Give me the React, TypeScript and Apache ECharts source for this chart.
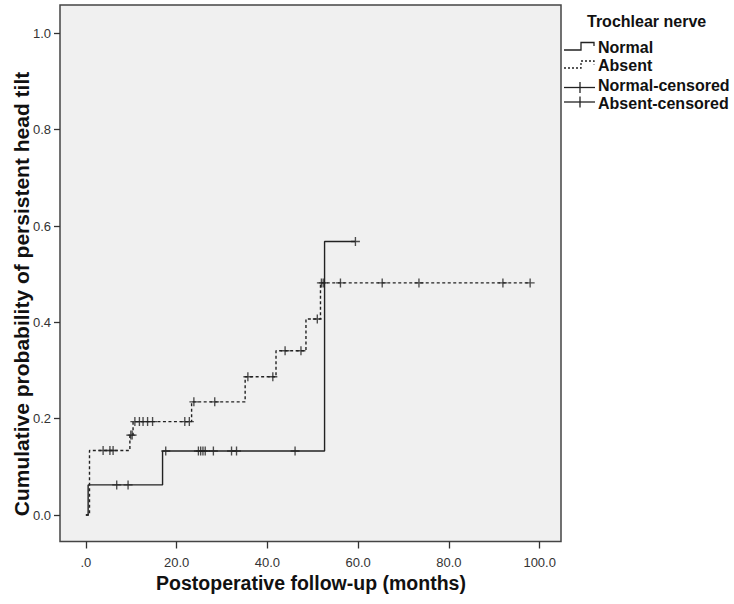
import React, { useEffect, useRef } from "react";
import * as echarts from "echarts";

// Kaplan-Meier step points [months, cumulative probability]
const normalCurve: [number, number][] = [
  [0, 0], [0.5, 0.0625], [16.9, 0.133], [52.6, 0.568], [59.4, 0.568],
];
const absentCurve: [number, number][] = [
  [0, 0], [0.8, 0.134], [9.7, 0.166], [10.4, 0.194], [23.3, 0.235], [35.1, 0.287],
  [41.9, 0.341], [48.5, 0.407], [51.7, 0.482], [97.9, 0.482],
];
// censored observations [months, cumulative probability]
const normalCensored: [number, number][] = [
  [6.8, 0.0625], [9.3, 0.0625],
  [17.6, 0.133], [24.8, 0.133], [25.3, 0.133], [25.8, 0.133], [26.3, 0.133], [28.1, 0.133],
  [32.1, 0.133], [33.2, 0.133], [46.1, 0.133],
  [59.4, 0.568],
];
const absentCensored: [number, number][] = [
  [3.8, 0.134], [5.3, 0.134], [6.0, 0.134],
  [9.9, 0.166], [10.2, 0.166],
  [10.8, 0.194], [11.8, 0.194], [12.6, 0.194], [13.6, 0.194], [14.7, 0.194], [21.8, 0.194], [22.8, 0.194],
  [23.8, 0.235], [28.4, 0.235],
  [35.7, 0.287], [41.2, 0.287],
  [43.9, 0.341], [47.4, 0.341],
  [51.0, 0.407],
  [51.9, 0.482], [52.3, 0.482], [56.1, 0.482], [65.3, 0.482], [73.4, 0.482], [91.9, 0.482], [97.9, 0.482],
];
const xTicks = [0, 20, 40, 60, 80, 100];
const yTicks = [0, 0.2, 0.4, 0.6, 0.8, 1.0];
const legendTitle = "Trochlear nerve";
const legendLabels = ["Normal", "Absent", "Normal-censored", "Absent-censored"];
const xTitle = "Postoperative follow-up (months)";
const yTitle = "Cumulative probability of persistent head tilt";

const FONT = "'Liberation Sans', Arial, Helvetica, sans-serif";
const INK = "#222";
const CROSS = "path://M4.25,0h1.5v4.25h4.25v1.5h-4.25v4.25h-1.5v-4.25h-4.25v-1.5h4.25z";

export default function App() {
  const ref = useRef<HTMLDivElement>(null);
  useEffect(() => {
    if (!ref.current) return;
    const chart = echarts.init(ref.current, null, { renderer: "svg" });
    const lx = 564;
    chart.setOption({
      animation: false,
      backgroundColor: "#ffffff",
      grid: {
        left: 60, right: 173, top: 5, bottom: 62.5,
        show: true, backgroundColor: "#f0f0f0", borderColor: "#444", borderWidth: 1.5,
      },
      xAxis: {
        type: "value", min: -5.7, max: 104.7,
        axisLine: { show: false, onZero: false },
        splitLine: { show: false },
        axisTick: { show: true, customValues: xTicks, length: 7, lineStyle: { color: "#333", width: 1.3 } },
        axisLabel: {
          customValues: xTicks, margin: 14, color: "#333", fontSize: 13, fontFamily: FONT,
          formatter: (v: number) => (v === 0 ? ".0" : v.toFixed(1)),
        },
      },
      yAxis: {
        type: "value", min: -0.055, max: 1.059,
        axisLine: { show: false, onZero: false },
        splitLine: { show: false },
        axisTick: { show: true, customValues: yTicks, length: 6, lineStyle: { color: "#333", width: 1.3 } },
        axisLabel: {
          customValues: yTicks, margin: 9, color: "#333", fontSize: 13, fontFamily: FONT,
          formatter: (v: number) => v.toFixed(1),
        },
      },
      series: [
        {
          name: "Normal", type: "line", step: "end", data: normalCurve, showSymbol: false, silent: true,
          lineStyle: { color: INK, width: 1.4, type: "solid" },
        },
        {
          name: "Absent", type: "line", step: "end", data: absentCurve, showSymbol: false, silent: true,
          lineStyle: { color: INK, width: 1.4, type: [3, 2.5] },
        },
        {
          name: "Normal-censored", type: "scatter", data: normalCensored, symbol: CROSS, symbolSize: 9,
          itemStyle: { color: INK }, silent: true, z: 5,
        },
        {
          name: "Absent-censored", type: "scatter", data: absentCensored, symbol: CROSS, symbolSize: 9,
          itemStyle: { color: INK }, silent: true, z: 5,
        },
      ],
      graphic: [
        {
          type: "text", x: 311, y: 583,
          style: { text: xTitle, font: `bold 19.5px ${FONT}`, fill: "#111", textAlign: "center", textVerticalAlign: "middle" },
        },
        {
          type: "text", x: 21, y: 294, rotation: Math.PI / 2,
          style: { text: yTitle, font: `bold 21px ${FONT}`, fill: "#111", textAlign: "center", textVerticalAlign: "middle" },
        },
        {
          type: "text", x: 587, y: 21,
          style: { text: legendTitle, font: `bold 16px ${FONT}`, fill: "#111", textVerticalAlign: "middle" },
        },
        ...legendLabels.map((t, i) => ({
          type: "text", x: 598, y: [47, 65.5, 85, 103][i],
          style: { text: t, font: `bold 16px ${FONT}`, fill: "#111", textVerticalAlign: "middle" },
        })),
        {
          type: "polyline",
          shape: { points: [[lx, 50], [581, 50], [581, 42.5], [594, 42.5], [594, 46]] },
          style: { stroke: INK, lineWidth: 1.3, fill: null },
        },
        {
          type: "polyline",
          shape: { points: [[lx, 68], [581, 68], [581, 61], [594, 61], [594, 64.5]] },
          style: { stroke: INK, lineWidth: 1.3, fill: null, lineDash: [2, 2] },
        },
        { type: "line", shape: { x1: lx, y1: 87.5, x2: 595, y2: 87.5 }, style: { stroke: INK, lineWidth: 1.3 } },
        { type: "line", shape: { x1: 580, y1: 82, x2: 580, y2: 93 }, style: { stroke: INK, lineWidth: 1.3 } },
        { type: "line", shape: { x1: lx, y1: 102, x2: 595, y2: 102 }, style: { stroke: INK, lineWidth: 1.3 } },
        { type: "line", shape: { x1: 580, y1: 96.5, x2: 580, y2: 107.5 }, style: { stroke: INK, lineWidth: 1.3 } },
      ],
    });
    return () => chart.dispose();
  }, []);
  return <div ref={ref} style={{ width: 734, height: 604, position: "absolute", left: 0, top: 0 }} />;
}
